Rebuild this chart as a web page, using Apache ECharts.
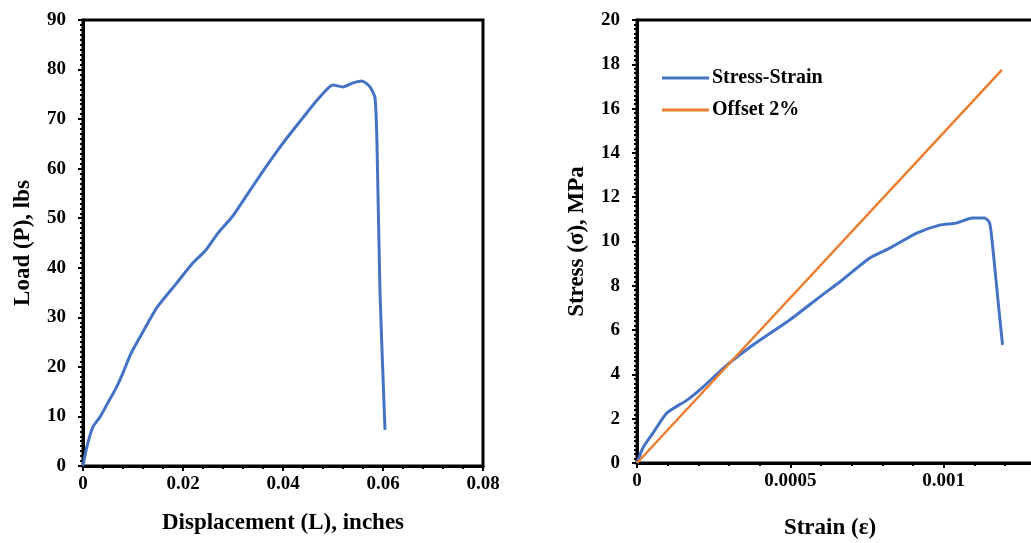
<!DOCTYPE html>
<html><head><meta charset="utf-8">
<script src="https://cdn.jsdelivr.net/npm/echarts@6/dist/echarts.min.js"></script>
<style>html,body{margin:0;padding:0;background:#fff;}#c{width:1031px;height:543px;}</style>
</head><body><div id="c"></div>
<script>
// Left chart: Load vs Displacement
const dispIn = [0,0.0008,0.002,0.0034,0.005,0.0065,0.008,0.0095,0.0114,0.0148,0.0188,0.022,0.0245,0.027,0.03,0.033,0.036,0.039,0.0414,0.044,0.0468,0.05,0.052,0.054,0.0558,0.0574,0.0584,0.0588,0.0594,0.0604];
const loadLbs = [0,4,7.9,9.9,12.8,15.5,18.8,22.5,26,32,37,41,43.5,47,50.5,55,59.5,63.8,67,70.3,73.8,76.9,76.5,77.3,77.7,76.5,74.3,65,35,7.3];
// Right chart: Stress vs Strain
const strain = [0,0.00002,0.000052,0.0000977,0.000163,0.000215,0.000293,0.000378,0.000498,0.000596,0.000661,0.000759,0.000824,0.000912,0.000987,0.00104,0.001094,0.001134,0.00115,0.00116,0.001176,0.001192];
const stressMPa = [0,0.7,1.35,2.26,2.84,3.43,4.42,5.33,6.46,7.5,8.17,9.25,9.7,10.38,10.74,10.83,11.06,11.06,10.83,9.75,7.5,5.33];
const offsetStrain = [0,0.00119];
const offsetStress = [0,17.75];
const seriesNames = ['Stress-Strain','Offset 2%'];
const xTitleLeft = 'Displacement (L), inches';
const yTitleLeft = 'Load (P), lbs';
const xTitleRight = 'Strain (ε)';
const yTitleRight = 'Stress (σ), MPa';

const FONT = 'Liberation Serif';
const BLUE = '#4472C4', ORANGE = '#ED7D31';
const zip = (a,b) => a.map((v,i)=>[v,b[i]]);

const axisCommon = {
  axisLine:{show:true,onZero:false,lineStyle:{color:'#000',width:3}},
  axisTick:{show:true,inside:false,length:5,lineStyle:{color:'#000',width:2}},
  minorTick:{show:true,length:3,lineStyle:{color:'#000',width:2}},
  splitLine:{show:false},
  axisLabel:{color:'#000',fontFamily:FONT,fontWeight:'bold',fontSize:19},
  nameLocation:'middle',
  nameTextStyle:{color:'#000',fontFamily:FONT,fontWeight:'bold',fontSize:23}
};

const chart = echarts.init(document.getElementById('c'));
chart.setOption({
  animation:false,
  backgroundColor:'#fff',
  grid:[
    {left:83,top:20,width:400,height:446,show:true,borderColor:'#000',borderWidth:3,backgroundColor:'transparent',outerBoundsMode:'none',containLabel:false},
    {left:637,top:20,width:460,height:443,show:true,borderColor:'#000',borderWidth:3,backgroundColor:'transparent',outerBoundsMode:'none',containLabel:false}
  ],
  legend:{
    data:[{name:seriesNames[0],icon:'rect'},{name:seriesNames[1],icon:'rect'}],
    left:657, top:63, orient:'vertical',
    itemWidth:47, itemHeight:3, itemGap:12,
    textStyle:{color:'#000',fontFamily:FONT,fontWeight:'bold',fontSize:20,padding:[0,0,0,-2]}
  },
  xAxis:[
    Object.assign({},axisCommon,{gridIndex:0,type:'value',min:0,max:0.08,interval:0.02,
      minorTick:Object.assign({},axisCommon.minorTick,{splitNumber:5}),
      axisLabel:Object.assign({},axisCommon.axisLabel,{margin:9,formatter:v=>String(parseFloat(v.toFixed(3)))}),
      name:xTitleLeft,nameGap:46}),
    Object.assign({},axisCommon,{gridIndex:1,type:'value',min:0,max:0.0015,interval:0.0005,
      minorTick:Object.assign({},axisCommon.minorTick,{splitNumber:5}),
      axisLabel:Object.assign({},axisCommon.axisLabel,{margin:9,formatter:v=>String(parseFloat(v.toFixed(4)))}),
      name:xTitleRight,nameGap:54,
      nameTextStyle:Object.assign({},axisCommon.nameTextStyle,{padding:[0,74,0,0]})})
  ],
  yAxis:[
    Object.assign({},axisCommon,{gridIndex:0,type:'value',min:0,max:90,interval:10,
      minorTick:Object.assign({},axisCommon.minorTick,{splitNumber:10}),
      axisLabel:Object.assign({},axisCommon.axisLabel,{margin:17}),
      name:yTitleLeft,nameGap:48}),
    Object.assign({},axisCommon,{gridIndex:1,type:'value',min:0,max:20,interval:2,
      minorTick:Object.assign({},axisCommon.minorTick,{splitNumber:10}),
      axisLabel:Object.assign({},axisCommon.axisLabel,{margin:17}),
      name:yTitleRight,nameGap:48})
  ],
  series:[
    {name:'Load',type:'line',xAxisIndex:0,yAxisIndex:0,data:zip(dispIn,loadLbs),
      symbol:'none',smooth:0.2,lineStyle:{color:BLUE,width:3},itemStyle:{color:BLUE}},
    {name:seriesNames[0],type:'line',xAxisIndex:1,yAxisIndex:1,data:zip(strain,stressMPa),
      symbol:'none',smooth:0.2,lineStyle:{color:BLUE,width:3},itemStyle:{color:BLUE}},
    {name:seriesNames[1],type:'line',xAxisIndex:1,yAxisIndex:1,data:zip(offsetStrain,offsetStress),
      symbol:'none',lineStyle:{color:ORANGE,width:2.5},itemStyle:{color:ORANGE}}
  ]
});
</script></body></html>
